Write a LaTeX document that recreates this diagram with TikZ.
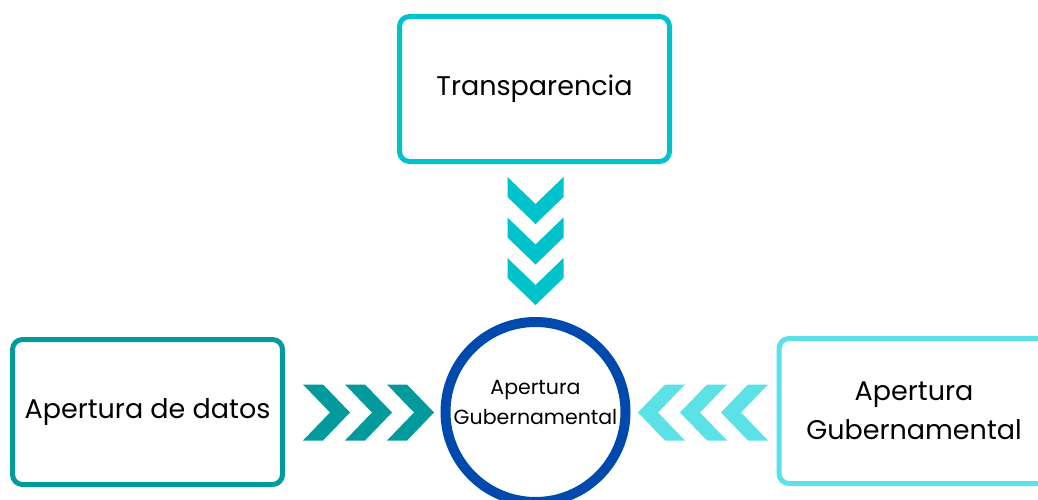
\documentclass[tikz,border=0pt]{standalone}
\usepackage{fontspec}
\setmainfont{Poppins}
\definecolor{cTop}{HTML}{00C2CB}
\definecolor{cLeft}{HTML}{029A9C}
\definecolor{cRight}{HTML}{5CE1E6}
\definecolor{cCirc}{HTML}{004AAD}
\begin{document}
\begin{tikzpicture}[x=1pt,y=-1pt,
  box/.style={draw, line width=5pt, rounded corners=10pt, minimum width=270pt, minimum height=145pt, align=center, inner sep=0pt, font=\fontsize{27}{39}\selectfont, text=black},
  hub/.style={circle, draw=cCirc, line width=10pt, minimum size=180pt, inner sep=0pt},
  hubtext/.style={align=center, inner sep=0pt, font=\fontsize{20.5}{30}\selectfont},
  chev/.pic={\fill (0,28) -- (20,28) -- (47,0) -- (20,-28) -- (0,-28) -- (27,0) -- cycle;}]
\useasboundingbox (0,0) rectangle (1038,500);
\node[box, draw=cTop] (top) at (534.5,89) {Transparencia};
\node[box, draw=cLeft] (left) at (147.5,412) {Apertura de datos};
\node[box, draw=cRight] (right) at (914,411) {Apertura\\Gubernamental};
\node[hub] (hub) at (535.5,412) {};
\node[hubtext] (hublabel) at ([yshift=10pt]hub.center) {Apertura\\Gubernamental};
\foreach \y in {177,217.5,258} \pic[cTop, rotate=-90] at (535.5,\y) {chev};
\foreach \x in {303,345,387} \pic[cLeft] at (\x,412.5) {chev};
\foreach \x in {685,727,768} \pic[cRight, rotate=180] at (\x,412.5) {chev};
\end{tikzpicture}
\end{document}
